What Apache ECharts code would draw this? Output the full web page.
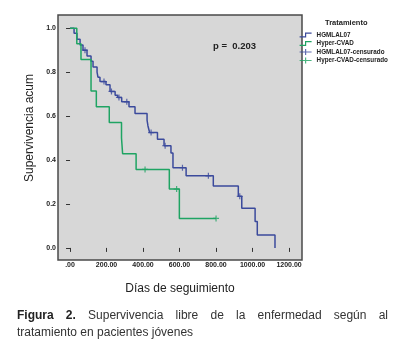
<!DOCTYPE html>
<html>
<head>
<meta charset="utf-8">
<script src="https://cdn.jsdelivr.net/npm/echarts@6/dist/echarts.min.js"></script>
<style>
  html, body { margin: 0; padding: 0; background: #fff; }
  #chart { width: 412px; height: 364px; }
</style>
</head>
<body>
<div id="chart"></div>
<script>
// curvas de Kaplan-Meier: [dias, supervivencia]
let hgmlalSteps = [
    [0, 1], [22, 0.977], [38, 0.95], [55, 0.923], [71, 0.9], [93, 0.873], [115, 0.85],
    [126, 0.823], [148, 0.8], [153, 0.777], [164, 0.757], [197, 0.742], [219, 0.712],
    [247, 0.695], [261, 0.685], [283, 0.665], [323, 0.642], [356, 0.612], [422, 0.582],
    [427, 0.555], [436, 0.525], [479, 0.495], [515, 0.465], [553, 0.432], [564, 0.365],
    [636, 0.328], [785, 0.282], [922, 0.235], [941, 0.18], [1014, 0.12], [1026, 0.059],
    [1123, 0]
];
let hyperSteps = [
    [0, 1], [37, 0.929], [60, 0.857], [115, 0.714], [144, 0.643], [215, 0.571],
    [282, 0.5], [288, 0.429], [362, 0.357], [544, 0.268], [599, 0.134], [800, 0.134]
];
let hgmlalCensored = [
    [82, 0.9], [186, 0.757], [227, 0.712], [268, 0.685], [311, 0.665],
    [444, 0.525], [521, 0.465], [616, 0.365], [758, 0.328], [930, 0.235]
];
let hyperCensored = [[411, 0.357], [584, 0.268], [800, 0.134]];

let xTicks = [0, 200, 400, 600, 800, 1000, 1200];
let yTicks = [0, 0.2, 0.4, 0.6, 0.8, 1.0];

let seriesNames = ['HGMLAL07', 'Hyper-CVAD', 'HGMLAL07-censurado', 'Hyper-CVAD-censurado'];

let BLUE = '#3b4a9c';
let GREEN = '#1fa463';
let FONT = 'Liberation Sans, Arial, sans-serif';
let PLUS = 'path://M5,0 L5,10 M0,5 L10,5';
let STEP_ICON = 'path://M0,8 L10,8 L10,2 L20,2';
let CENSOR_ICON = 'path://M0,5 L20,5 M10,0 L10,10';

let chart = echarts.init(document.getElementById('chart'));

// pie de figura: primera linea justificada entre x=17 y x=388
let captionLine1 = [['Figura', true], ['2.', true], ['Supervivencia'], ['libre'], ['de'], ['la'], ['enfermedad'], ['según'], ['al']];
let captionLine2 = 'tratamiento en pacientes jóvenes';

let ctx = document.createElement('canvas').getContext('2d');
let fontOf = bold => (bold ? 'bold ' : '') + '12px ' + FONT;
let widths = captionLine1.map(w => {
    ctx.font = fontOf(w[1]);
    return ctx.measureText(w[0]).width;
});
let gap = (388 - 17 - widths.reduce((a, b) => a + b, 0)) / (captionLine1.length - 1);

let graphics = [
    {
        type: 'text', left: 325, top: 19,
        style: { text: 'Tratamiento', font: 'bold 7.5px ' + FONT, fill: '#222' }
    },
    {
        type: 'text', left: 213, top: 41,
        style: { text: 'p =  0.203', font: 'bold 9.5px ' + FONT, fill: '#222' }
    },
    {
        type: 'text', left: 17, top: 327,
        style: { text: captionLine2, font: fontOf(false), fill: '#333' }
    }
];
let cx = 17;
captionLine1.forEach((w, i) => {
    graphics.push({
        type: 'text', left: cx, top: 310,
        style: { text: w[0], font: fontOf(w[1]), fill: w[1] ? '#222' : '#333' }
    });
    cx += widths[i] + gap;
});

let option = {
    animation: false,
    backgroundColor: '#fff',
    textStyle: { fontFamily: FONT },
    grid: {
        left: 58, top: 15, right: 110, bottom: 104,
        show: true,
        backgroundColor: '#d7d7d7',
        borderColor: '#4a4a4a',
        borderWidth: 1.5
    },
    legend: {
        orient: 'vertical',
        left: 299, top: 31,
        padding: 0,
        itemWidth: 12, itemHeight: 6, itemGap: 0.5,
        textStyle: { fontSize: 6.3, fontWeight: 'bold', color: '#222', lineHeight: 8 },
        data: [
            { name: seriesNames[0], icon: STEP_ICON, itemStyle: { color: 'transparent', borderColor: BLUE, borderWidth: 1.2 } },
            { name: seriesNames[1], icon: STEP_ICON, itemStyle: { color: 'transparent', borderColor: GREEN, borderWidth: 1.2 } },
            { name: seriesNames[2], icon: CENSOR_ICON, itemStyle: { color: 'transparent', borderColor: BLUE, borderWidth: 1.2 } },
            { name: seriesNames[3], icon: CENSOR_ICON, itemStyle: { color: 'transparent', borderColor: GREEN, borderWidth: 1.2 } }
        ]
    },
    xAxis: {
        type: 'value',
        min: -66, max: 1271,
        name: 'Días de seguimiento',
        nameLocation: 'middle',
        nameGap: 23,
        nameTextStyle: { fontSize: 12, color: '#222' },
        splitLine: { show: false },
        axisLine: { show: false },
        axisTick: { show: true, length: 4, customValues: xTicks, lineStyle: { color: '#333' } },
        axisLabel: {
            customValues: xTicks,
            margin: 2,
            fontSize: 7, fontWeight: 'bold', color: '#222',
            formatter: v => v === 0 ? '.00' : v.toFixed(2)
        }
    },
    yAxis: {
        type: 'value',
        min: -0.055, max: 1.06,
        name: 'Supervivencia acum',
        nameLocation: 'middle',
        nameGap: 18,
        nameTextStyle: { fontSize: 12, color: '#222', padding: [0, 0, 0, 19] },
        splitLine: { show: false },
        axisLine: { show: false },
        axisTick: { show: true, length: 4, customValues: yTicks, lineStyle: { color: '#333' } },
        axisLabel: {
            customValues: yTicks,
            margin: 2,
            fontSize: 7, fontWeight: 'bold', color: '#222',
            formatter: v => v.toFixed(1)
        }
    },
    series: [
        {
            name: seriesNames[0], type: 'line', step: 'end',
            data: hgmlalSteps, symbol: 'none',
            lineStyle: { color: BLUE, width: 1.5 }, itemStyle: { color: BLUE }
        },
        {
            name: seriesNames[1], type: 'line', step: 'end',
            data: hyperSteps, symbol: 'none',
            lineStyle: { color: GREEN, width: 1.5 }, itemStyle: { color: GREEN }
        },
        {
            name: seriesNames[2], type: 'scatter',
            data: hgmlalCensored, symbol: PLUS, symbolSize: 6,
            itemStyle: { color: 'transparent', borderColor: BLUE, borderWidth: 1.2 }
        },
        {
            name: seriesNames[3], type: 'scatter',
            data: hyperCensored, symbol: PLUS, symbolSize: 6,
            itemStyle: { color: 'transparent', borderColor: GREEN, borderWidth: 1.2 }
        }
    ],
    graphic: graphics
};

chart.setOption(option);
</script>
</body>
</html>
